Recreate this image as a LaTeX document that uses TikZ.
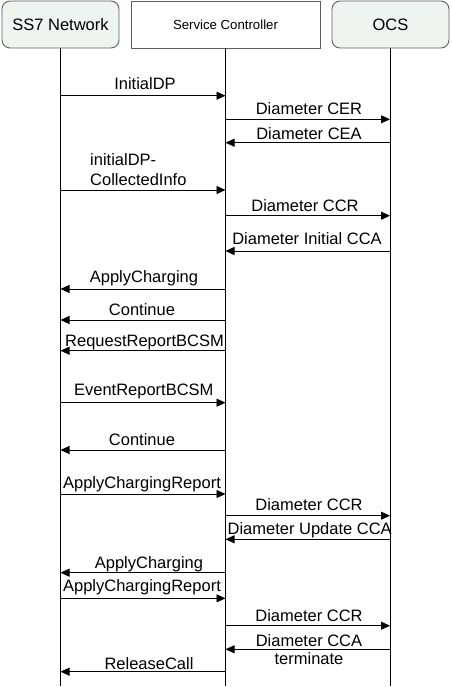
\documentclass[tikz,border=0pt]{standalone}
\usepackage{fontspec}
\setmainfont{Liberation Sans}
\usetikzlibrary{arrows.meta}
\definecolor{boxfill}{RGB}{238,244,238}
\definecolor{boxline}{RGB}{95,95,95}
\newcommand\msgline[4]{\coordinate (#1s) at (#3,#2); \coordinate (#1e) at (#4,#2); \draw[msg] (#1s) -- (#1e);}
\begin{document}
\begin{tikzpicture}[x=1pt,y=-1pt,
  hdr/.style={draw=boxline, line width=0.9pt, minimum height=47pt, inner sep=0pt, font=\fontsize{16.5}{19}\selectfont},
  hdrR/.style={hdr, rounded corners=8pt, fill=boxfill},
  life/.style={draw=black, line width=0.8pt},
  msg/.style={draw=black, line width=0.8pt, -{Triangle[length=9pt,width=8pt]}},
  lbl/.style={inner sep=0pt, anchor=base, font=\fontsize{16.5}{19}\selectfont}]
\useasboundingbox (0,0) rectangle (451,687);
\node[hdrR, minimum width=117pt] (ss7) at (60.5,24.5) {SS7 Network};
\node[hdr, minimum width=189pt, fill=white, font=\fontsize{13.2}{16}\selectfont] (sc) at (225.5,24.5) {Service Controller};
\node[hdrR, minimum width=117pt] (ocs) at (390.5,24.5) {OCS};
\coordinate (ss7end) at (60.5,686);
\coordinate (scend) at (225.5,686);
\coordinate (ocsend) at (390,686);
\draw[life] (ss7.south) -- (ss7end);
\draw[life] (sc.south) -- (scend);
\draw[life] (ocs.south -| ocsend) -- (ocsend);
% messages
\msgline{m1}{95.7}{60.5}{225.5}
\node[lbl] (t1) at (145,90) {InitialDP};
\msgline{m2}{119.3}{225.5}{390}
\node[lbl] (t2) at (309,115) {Diameter CER};
\msgline{m3}{142.7}{390}{225.5}
\node[lbl] (t3) at (309,140) {Diameter CEA};
\msgline{m4}{190}{60.5}{225.5}
\node[lbl, anchor=base west] (t4a) at (90,166) {initialDP-};
\node[lbl, anchor=base west] (t4b) at (90,185) {CollectedInfo};
\msgline{m5}{215.7}{225.5}{390}
\node[lbl] (t5) at (305,211.7) {Diameter CCR};
\msgline{m6}{251}{390}{225.5}
\node[lbl] (t6) at (307,244.3) {Diameter Initial CCA};
\msgline{m7}{289}{225.5}{60.5}
\node[lbl] (t7) at (144,282.7) {ApplyCharging};
\msgline{m8}{320}{225.5}{60.5}
\node[lbl] (t8) at (142,315) {Continue};
\msgline{m9}{350.7}{225.5}{60.5}
\node[lbl] (t9) at (144.5,346) {RequestReportBCSM};
\msgline{m10}{402.7}{60.5}{225.5}
\node[lbl] (t10) at (143.8,395) {EventReportBCSM};
\msgline{m11}{450}{225.5}{60.5}
\node[lbl] (t11) at (142,445) {Continue};
\msgline{m12}{494}{60.5}{225.5}
\node[lbl] (t12) at (142,488.3) {ApplyChargingReport};
\msgline{m13}{515.7}{225.5}{390}
\node[lbl] (t13) at (309,510.7) {Diameter CCR};
\msgline{m14}{539.3}{390}{225.5}
\node[lbl] (t14) at (309.7,534) {Diameter Update CCA};
\msgline{m15}{572.7}{225.5}{60.5}
\node[lbl] (t15) at (149,568.3) {ApplyCharging};
\msgline{m16}{598.3}{60.5}{225.5}
\node[lbl] (t16) at (142,591.7) {ApplyChargingReport};
\msgline{m17}{625.7}{225.5}{390}
\node[lbl] (t17) at (309,621) {Diameter CCR};
\msgline{m18}{649.3}{390}{225.5}
\node[lbl] (t18a) at (309,646) {Diameter CCA};
\node[lbl] (t18b) at (309,664) {terminate};
\msgline{m19}{671.7}{225.5}{60.5}
\node[lbl] (t19) at (149,669.3) {ReleaseCall};
\end{tikzpicture}
\end{document}
